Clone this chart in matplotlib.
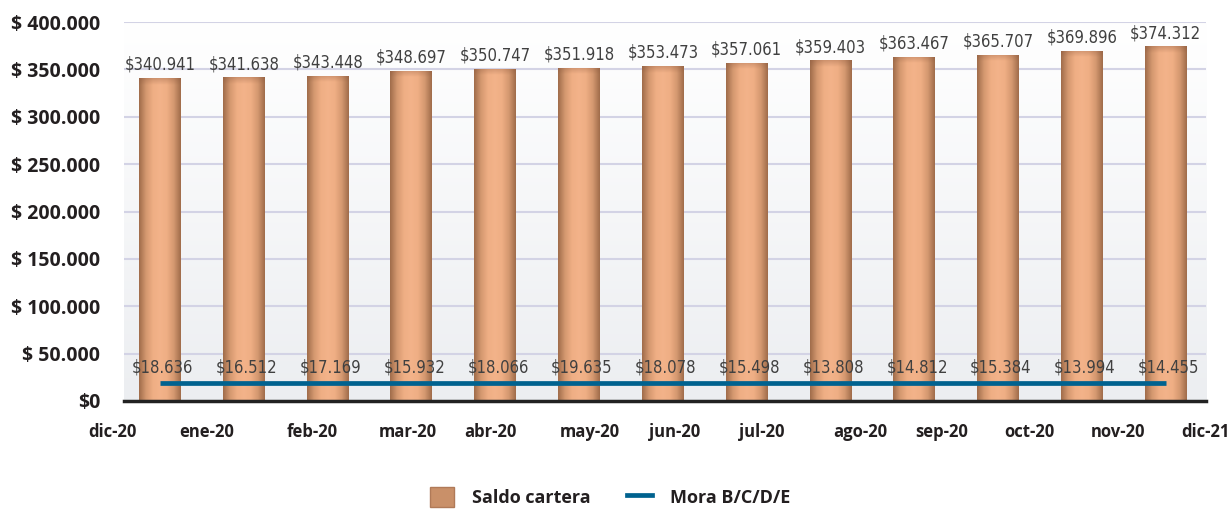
import numpy as np
import matplotlib
matplotlib.use("Agg")
import matplotlib.pyplot as plt
from matplotlib.colors import LinearSegmentedColormap
from matplotlib.patches import Patch
from matplotlib.lines import Line2D
import matplotlib.transforms as mtransforms

# ---- data ----
months = ["dic-20", "ene-20", "feb-20", "mar-20", "abr-20", "may-20", "jun-20",
          "jul-20", "ago-20", "sep-20", "oct-20", "nov-20", "dic-21"]
saldo_cartera = [340941, 341638, 343448, 348697, 350747, 351918, 353473,
                 357061, 359403, 363467, 365707, 369896, 374312]
mora_bcde = [18636, 16512, 17169, 15932, 18066, 19635, 18078,
             15498, 13808, 14812, 15384, 13994, 14455]
# level at which the Mora line is drawn in the picture (flat)
mora_line_level = [18500, 18500, 18500, 18500, 18500, 18500, 18500,
                   18500, 18500, 18500, 18500, 18500, 18500]
yticks = [0, 50000, 100000, 150000, 200000, 250000, 300000, 350000, 400000]
ytick_labels = ["$0", "$ 50.000", "$ 100.000", "$ 150.000", "$ 200.000",
                "$ 250.000", "$ 300.000", "$ 350.000", "$ 400.000"]
# x positions (in bar units) where the month labels sit
month_label_pos = [-0.57, 0.56, 1.82, 2.96, 3.94, 5.13, 6.14, 7.18, 8.35,
                   9.33, 10.37, 11.43, 12.47]

def fmt(v):
    return "$" + f"{v:,}".replace(",", ".")

fig = plt.figure(figsize=(12.31, 5.12), dpi=100)
ax = fig.add_axes([0.1007, 0.2168, 0.8790, 0.7402])
x = np.arange(len(saldo_cartera))
ax.set_xlim(-0.43, 12.48)
ax.set_ylim(0, 400000)

# background gradient
bg_cmap = LinearSegmentedColormap.from_list("bg", ["#eceef1", "#ffffff"])
ax.imshow(np.linspace(0, 1, 256).reshape(-1, 1), cmap=bg_cmap, aspect="auto",
          extent=[0, 1, 0, 1], transform=ax.transAxes, zorder=0, origin="lower")

# grid
for yv in yticks[1:]:
    ax.axhline(yv, color="#d3d3e5", lw=1.5, zorder=1)

# bars with shading
bw = 0.5
bars = ax.bar(x, saldo_cartera, width=bw, color="none", edgecolor="none", zorder=2)
bar_cmap = LinearSegmentedColormap.from_list(
    "bar", ["#a06c4a", "#d49870", "#efae84", "#f3b38a", "#efae84", "#d49870", "#a06c4a"])
prof = np.linspace(0, 1, 200).reshape(1, -1)
top_cmap = LinearSegmentedColormap.from_list(
    "t", [(0.55, 0.35, 0.25, 0.0), (0.55, 0.35, 0.25, 0.35)])
for b, v in zip(bars, saldo_cartera):
    x0 = b.get_x()
    img = np.tile(prof, (60, 1))
    im = ax.imshow(img, cmap=bar_cmap, aspect="auto",
                   extent=[x0, x0 + bw, 0, v], zorder=2, origin="lower",
                   interpolation="bilinear")
    im.set_clip_path(b)
    top = ax.imshow(np.linspace(0, 1, 50).reshape(-1, 1), cmap=top_cmap,
                    aspect="auto", extent=[x0, x0 + bw, v - 7000, v],
                    zorder=2.1, origin="lower")
    top.set_clip_path(b)

# line
ax.plot(x, mora_line_level, color="#00628f", lw=3.4, zorder=3, solid_capstyle="butt")

# labels
lab_kw = dict(fontsize=12, color="#404040", family="DejaVu Sans",
              fontstretch="condensed", zorder=4)
for xi, v in zip(x, saldo_cartera):
    ax.annotate(fmt(v), (xi, v), xytext=(0, 3), textcoords="offset points",
                ha="center", va="bottom", **lab_kw)
for xi, v in zip(x, mora_bcde):
    ax.annotate(fmt(v), (xi, 18500), xytext=(2, 5), textcoords="offset points",
                ha="center", va="bottom", **lab_kw)

# axes styling
bold_font = ["Open Sans", "DejaVu Sans"]
for s in ["top", "right", "left"]:
    ax.spines[s].set_visible(False)
ax.spines["bottom"].set_color("#222222")
ax.spines["bottom"].set_linewidth(2.5)
ax.spines["bottom"].set_zorder(5)
ax.set_yticks(yticks)
ax.set_yticklabels(ytick_labels)
for t in ax.get_yticklabels():
    t.set_fontsize(14)
    t.set_fontweight("bold")
    t.set_family(bold_font)
    t.set_color("#231f20")
ax.tick_params(axis="y", length=0, pad=17)
ax.set_xticks([])

trans = mtransforms.blended_transform_factory(ax.transData, ax.transAxes)
for pos, m in zip(month_label_pos, months):
    ax.text(pos, -0.058, m, transform=trans, ha="center", va="top",
            fontsize=12, fontweight="bold", family=bold_font,
            color="#231f20", clip_on=False)

handles = [Patch(facecolor="#c99069", edgecolor="#b07a58"),
           Line2D([0], [0], color="#00628f", lw=3.4)]
leg = fig.legend(handles, ["Saldo cartera", "Mora B/C/D/E"], loc="lower center",
                 bbox_to_anchor=(0.4955, -0.022), ncol=2, frameon=False,
                 prop={"weight": "bold", "size": 13, "family": bold_font},
                 handlelength=1.35, handleheight=1.3, columnspacing=2.0,
                 handletextpad=1.0)
for t in leg.get_texts():
    t.set_color("#231f20")

fig.savefig("out.png", dpi=100)
